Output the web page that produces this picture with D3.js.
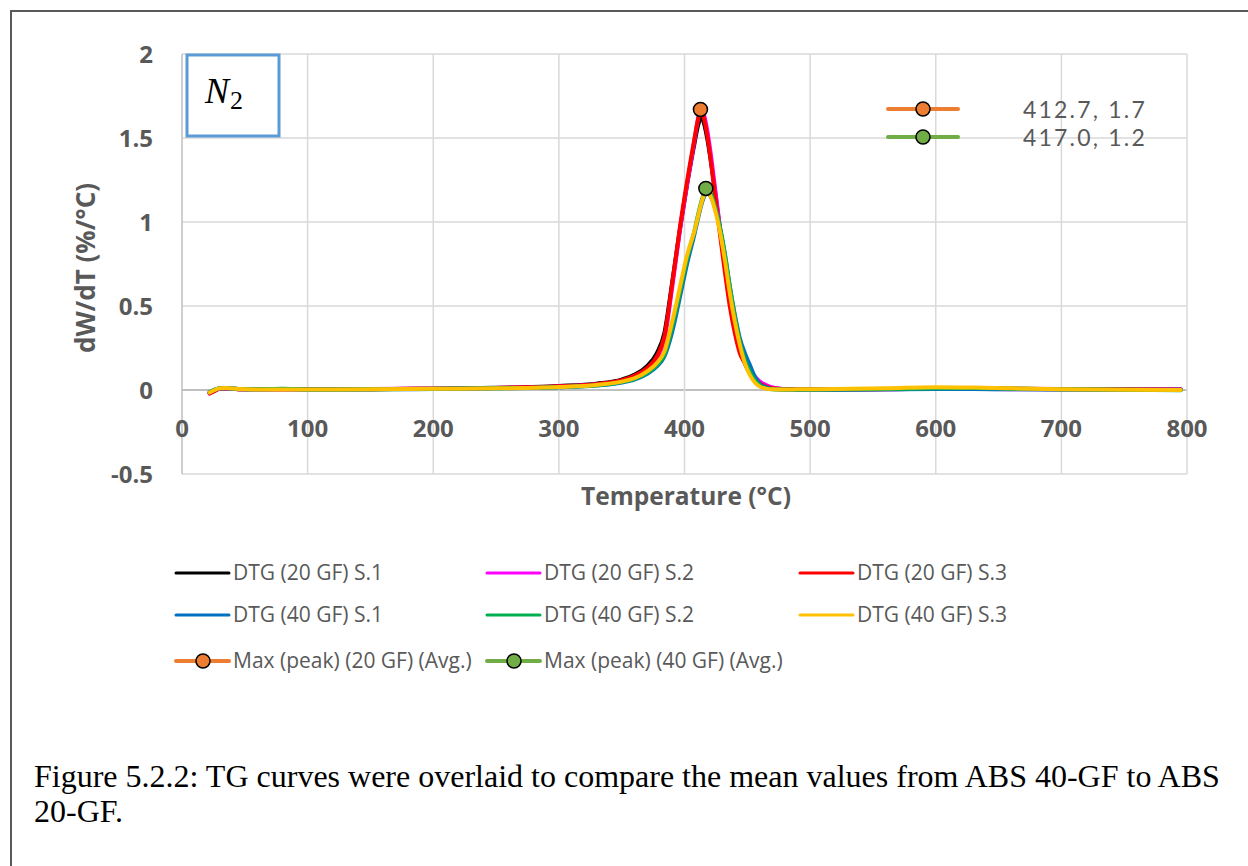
<!DOCTYPE html>
<html><head><meta charset="utf-8">
<script src="https://cdn.jsdelivr.net/npm/d3@7"></script>
<style>
html,body{margin:0;padding:0;background:#fff;}
svg{display:block;}
</style></head>
<body>
<svg id="chart" width="1248" height="866"></svg>
<script>
// ---- data ----
const temps = [22,26,30,35,45,60,80,100,150,200,250,300,330,350,360,370,378,384,390,396,402,408,411,413,415,418,421,424,428,432,436,440,444,448,452,456,460,465,470,478,490,520,560,600,630,660,700,750,795];
const dtg20_s1 = [-0.018,-0.004,0.009,0.01,0.005,0.004,0.005,0.004,0.005,0.008,0.013,0.024,0.038,0.062,0.09,0.14,0.22,0.34,0.63,0.94,1.22,1.47,1.58,1.62,1.6,1.5,1.36,1.2,0.97,0.75,0.54,0.37,0.24,0.16,0.1,0.06,0.035,0.018,0.01,0.006,0.005,0.004,0.005,0.008,0.009,0.007,0.005,0.004,0.003];
const dtg20_s2 = [-0.02,-0.006,0.007,0.009,0.005,0.004,0.004,0.005,0.006,0.009,0.012,0.021,0.034,0.056,0.082,0.125,0.19,0.3,0.6,0.93,1.22,1.49,1.62,1.67,1.65,1.55,1.4,1.22,0.98,0.76,0.55,0.38,0.26,0.18,0.12,0.08,0.05,0.03,0.015,0.006,0.003,0.002,0.004,0.008,0.007,0.005,0.004,0.004,0.004];
const dtg20_s3 = [-0.02,-0.005,0.008,0.01,0.005,0.004,0.004,0.004,0.005,0.008,0.012,0.022,0.035,0.058,0.085,0.13,0.2,0.32,0.62,0.95,1.24,1.5,1.62,1.66,1.63,1.52,1.36,1.18,0.94,0.71,0.5,0.34,0.22,0.16,0.1,0.065,0.04,0.02,0.01,0.006,0.005,0.005,0.006,0.01,0.01,0.008,0.006,0.004,0.002];
const dtg40_s1 = [-0.012,0.002,0.01,0.011,0.006,0.004,0.006,0.003,0.004,0.006,0.01,0.016,0.026,0.044,0.062,0.095,0.14,0.2,0.34,0.54,0.75,0.93,1.03,1.09,1.14,1.17,1.15,1.09,0.97,0.81,0.62,0.45,0.31,0.22,0.15,0.08,0.035,0.015,0.006,0.003,0.002,0.002,0.004,0.006,0.006,0.004,0.003,0.002,0.001];
const dtg40_s2 = [-0.014,0.001,0.01,0.012,0.006,0.004,0.008,0.003,0.004,0.007,0.011,0.017,0.028,0.047,0.066,0.1,0.15,0.21,0.37,0.57,0.78,0.95,1.05,1.11,1.16,1.19,1.17,1.1,0.98,0.82,0.62,0.44,0.29,0.18,0.11,0.06,0.025,0.01,0.004,0.002,0.002,0.003,0.006,0.01,0.012,0.008,0.005,0.001,-0.001];
const dtg40_s3 = [-0.015,0.0,0.01,0.012,0.006,0.003,0.003,0.003,0.004,0.007,0.01,0.018,0.03,0.05,0.07,0.11,0.16,0.23,0.4,0.6,0.8,0.95,1.04,1.1,1.15,1.18,1.15,1.08,0.95,0.78,0.58,0.41,0.27,0.16,0.09,0.045,0.02,0.008,0.004,0.003,0.004,0.006,0.01,0.016,0.015,0.01,0.005,0.002,0.0];
const peakNames = ["Max (peak) (20 GF) (Avg.)", "Max (peak) (40 GF) (Avg.)"];
const peakT = [412.7, 417.0];
const peakV = [1.67, 1.2];
const peakLabels = ["412.7, 1.7", "417.0, 1.2"];
const seriesNames = ["DTG (20 GF) S.1","DTG (20 GF) S.2","DTG (20 GF) S.3","DTG (40 GF) S.1","DTG (40 GF) S.2","DTG (40 GF) S.3"];
const xTicks = [0,100,200,300,400,500,600,700,800];
const yTicks = [-0.5,0,0.5,1,1.5,2];
const xTitle = "Temperature (°C)";
const yTitle = "dW/dT (%/°C)";
const caption = ["Figure 5.2.2: TG curves were overlaid to compare the mean values from ABS 40-GF to ABS", "20-GF."];

// ---- styles ----
const seriesColors = ["#000000","#ff00ff","#ff0000","#0070c0","#00b050","#ffc000"];
const peakColors = ["#ed7d31","#70ad47"];
const txt = "#595959";
const font = "'Open Sans', Lato, sans-serif";

const svg = d3.select("#chart");
const seriesVals = [dtg20_s1,dtg20_s2,dtg20_s3,dtg40_s1,dtg40_s2,dtg40_s3];

// frame
svg.append("path").attr("d","M11,866 L11,11 L1248,11").attr("fill","none").attr("stroke","#595959").attr("stroke-width",2);

const x = d3.scaleLinear().domain([0,800]).range([182,1187]);
const y = d3.scaleLinear().domain([-0.5,2]).range([474,54]);

// gridlines
const grid = svg.append("g");
grid.selectAll("line.h").data(yTicks).join("line")
  .attr("x1",x(0)).attr("x2",x(800)).attr("y1",d=>y(d)).attr("y2",d=>y(d))
  .attr("stroke",d=>d===0?"#bfbfbf":"#d9d9d9").attr("stroke-width",d=>d===0?2:1.5);
grid.selectAll("line.v").data(xTicks.filter(d=>d>0)).join("line")
  .attr("x1",d=>x(d)).attr("x2",d=>x(d)).attr("y1",y(2)).attr("y2",y(-0.5))
  .attr("stroke","#d9d9d9").attr("stroke-width",1.5);
svg.append("line").attr("x1",x(0)).attr("x2",x(0)).attr("y1",y(2)).attr("y2",y(-0.5))
  .attr("stroke","#bfbfbf").attr("stroke-width",1.5);

// y tick labels
svg.append("g").selectAll("text").data(yTicks).join("text")
  .attr("x",153).attr("y",d=>y(d)+8.5).attr("text-anchor","end")
  .attr("font-family",font).attr("font-weight","bold").attr("font-size",24).attr("fill",txt)
  .text(d=>String(d));
// x tick labels
svg.append("g").selectAll("text").data(xTicks).join("text")
  .attr("x",d=>x(d)).attr("y",437).attr("text-anchor","middle")
  .attr("font-family",font).attr("font-weight","bold").attr("font-size",24).attr("fill",txt)
  .text(d=>d);

// axis titles
svg.append("text").attr("x",686).attr("y",505).attr("text-anchor","middle")
  .attr("font-family",font).attr("font-weight","bold").attr("font-size",24.5).attr("fill",txt).text(xTitle);
svg.append("text").attr("transform","translate(95,268) rotate(-90)").attr("text-anchor","middle")
  .attr("font-family",font).attr("font-weight","bold").attr("font-size",26).attr("fill",txt).text(yTitle);

// curves
const line = d3.line().x(d=>x(d[0])).y(d=>y(d[1])).curve(d3.curveMonotoneX);
seriesVals.forEach((vals,i)=>{
  svg.append("path").datum(temps.map((t,j)=>[t,vals[j]]))
    .attr("d",line).attr("fill","none").attr("stroke",seriesColors[i]).attr("stroke-width",4)
    .attr("stroke-linejoin","round").attr("stroke-linecap","round");
});

// peak markers
svg.append("g").selectAll("circle").data(peakT).join("circle")
  .attr("cx",d=>x(d)).attr("cy",(d,i)=>y(peakV[i])).attr("r",7)
  .attr("fill",(d,i)=>peakColors[i]).attr("stroke","#000").attr("stroke-width",1.5);

// N2 box
svg.append("rect").attr("x",187).attr("y",55).attr("width",92).attr("height",81)
  .attr("fill","#fff").attr("stroke","#5b9bd5").attr("stroke-width",3);
const n2 = svg.append("text").attr("x",205).attr("y",103).attr("font-family","'Liberation Serif','DejaVu Serif',serif").attr("font-size",36).attr("fill","#000");
n2.append("tspan").attr("font-style","italic").text("N");
n2.append("tspan").attr("font-size",26).attr("dx",1).attr("dy",6).text("2");

// top-right legend
peakLabels.forEach((lab,i)=>{
  const cy = 109 + i*28;
  svg.append("line").attr("x1",888).attr("x2",958).attr("y1",cy).attr("y2",cy)
    .attr("stroke",peakColors[i]).attr("stroke-width",4).attr("stroke-linecap","round");
  svg.append("circle").attr("cx",923).attr("cy",cy).attr("r",7).attr("fill",peakColors[i]).attr("stroke","#000").attr("stroke-width",1.5);
  svg.append("text").attr("x",1147).attr("y",cy+8.5).attr("text-anchor","end")
    .attr("font-family","Lato, 'Open Sans', sans-serif").attr("font-size",23).attr("letter-spacing",2.2).attr("fill",txt).text(lab);
});

// bottom legend
const colX = [176,487,800];
const rowY = [573,615,661];
seriesNames.forEach((nm,i)=>{
  const cx = colX[i%3], cy = rowY[Math.floor(i/3)];
  svg.append("line").attr("x1",cx).attr("x2",cx+53).attr("y1",cy).attr("y2",cy)
    .attr("stroke",seriesColors[i]).attr("stroke-width",3).attr("stroke-linecap","round");
  svg.append("text").attr("x",cx+57).attr("y",cy+7).attr("font-family",font).attr("font-size",21).attr("fill",txt).text(nm);
});
peakNames.forEach((nm,i)=>{
  const cx = colX[i], cy = rowY[2];
  svg.append("line").attr("x1",cx).attr("x2",cx+53).attr("y1",cy).attr("y2",cy)
    .attr("stroke",peakColors[i]).attr("stroke-width",4).attr("stroke-linecap","round");
  svg.append("circle").attr("cx",cx+27).attr("cy",cy).attr("r",7).attr("fill",peakColors[i]).attr("stroke","#000").attr("stroke-width",1.5);
  svg.append("text").attr("x",cx+57).attr("y",cy+7).attr("font-family",font).attr("font-size",21).attr("fill",txt).text(nm);
});

// caption
caption.forEach((c,i)=>{
  svg.append("text").attr("x",34).attr("y",787+i*35).attr("font-family","'Liberation Serif','Times New Roman',serif")
    .attr("font-size",32).attr("fill","#000").text(c);
});
</script>
</body></html>
